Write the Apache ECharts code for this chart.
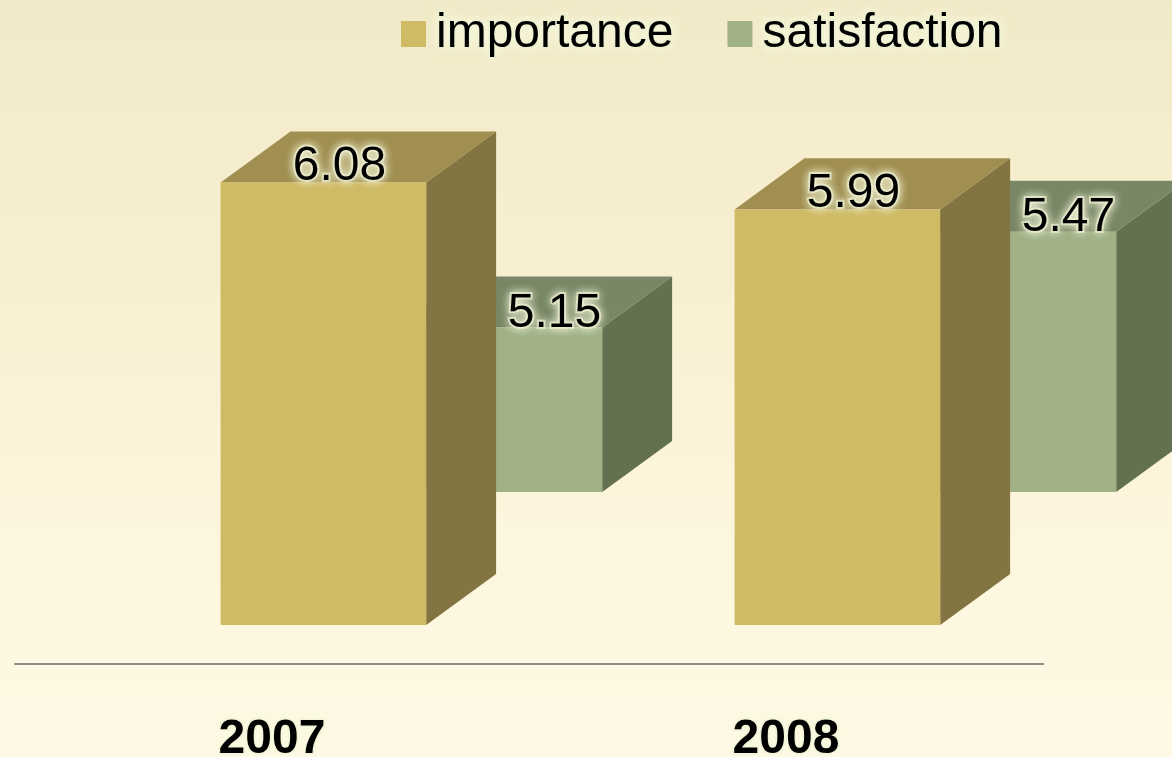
<!DOCTYPE html>
<html>
<head>
<meta charset="utf-8">
<style>
  html, body { margin: 0; padding: 0; }
  #chart { width: 1172px; height: 757px; }
</style>
<script src="https://cdn.jsdelivr.net/npm/echarts@6/dist/echarts.min.js"></script>
</head>
<body>
<div id="chart"></div>
<script>
// Survey scores per year
const years = ['2007', '2008'];
const importance = [6.08, 5.99];
const satisfaction = [5.15, 5.47];

// Value axis range (bars grow from the axis minimum)
const AXIS_MIN = 4.6;
const AXIS_MAX = 6.6;

const FONT = '"Liberation Sans", Arial, sans-serif';
const GLOW = 'rgba(248, 250, 222, 1)';
const HALO = 'rgba(232, 236, 205, 0.7)';

// Face colours for each box: front, top, side
const palette = {
  importance:   { front: '#cfbb65', top: '#a08f50', side: '#827541' },
  satisfaction: { front: '#a0b186', top: '#788766', side: '#637151' }
};

// Draws a pseudo-3D box for one category; `row` pushes the box back in depth
function boxRenderer(colors, row, labelDx, labelDy) {
  return function (params, api) {
    const cat = api.value(0);
    const val = api.value(1);
    const base = api.coord([cat, AXIS_MIN]);
    const top = api.coord([cat, val]);
    const bw = api.size([1, 0])[0];

    const depthX = 0.136 * bw;
    const depthY = -0.73 * depthX;
    const shiftX = row * 0.3424 * bw;
    const shiftY = -row * 0.2588 * bw;

    const x0 = base[0] - 0.1 * bw + shiftX;
    const x1 = x0 + 0.4 * bw;
    const yT = top[1] + shiftY;
    const yB = base[1] + shiftY;

    const side = {
      type: 'polygon',
      shape: { points: [[x1, yT], [x1 + depthX, yT + depthY], [x1 + depthX, yB + depthY], [x1, yB]] },
      style: { fill: colors.side }
    };
    const lid = {
      type: 'polygon',
      shape: { points: [[x0, yT], [x1, yT], [x1 + depthX, yT + depthY], [x0 + depthX, yT + depthY]] },
      style: { fill: colors.top }
    };
    const front = {
      type: 'rect',
      shape: { x: x0, y: yT, width: x1 - x0, height: yB - yT },
      style: { fill: colors.front }
    };
    const label = {
      type: 'text',
      x: (x0 + x1) / 2 + labelDx,
      y: yT + labelDy,
      style: {
        text: val.toFixed(2),
        fill: '#000',
        font: '48px ' + FONT,
        align: 'center',
        verticalAlign: 'middle',
        stroke: HALO,
        lineWidth: 4,
        textShadowColor: GLOW,
        textShadowBlur: 10
      }
    };
    return { type: 'group', children: [side, lid, front, label] };
  };
}

function series(name, values, row, z, labelDx, labelDy) {
  return {
    name: name,
    type: 'custom',
    z: z,
    clip: false,
    itemStyle: { color: palette[name].front },
    renderItem: boxRenderer(palette[name], row, labelDx, labelDy),
    data: values.map((v, i) => [i, v])
  };
}

const chart = echarts.init(document.getElementById('chart'), null, { renderer: 'canvas' });

chart.setOption({
  animation: false,
  backgroundColor: {
    type: 'linear', x: 0, y: 0, x2: 0, y2: 1,
    colorStops: [
      { offset: 0, color: '#f1eac8' },
      { offset: 0.35, color: '#f8efd0' },
      { offset: 0.7, color: '#fdf6de' },
      { offset: 1, color: '#fef9e5' }
    ]
  },
  legend: {
    data: ['importance', 'satisfaction'],
    left: 396,
    top: 3,
    icon: 'rect',
    itemWidth: 25,
    itemHeight: 26,
    itemGap: 52,
    textStyle: {
      fontFamily: FONT,
      fontSize: 48,
      color: '#000',
      padding: [0, 0, 0, 5],
      textBorderColor: HALO,
      textBorderWidth: 4,
      textShadowColor: GLOW,
      textShadowBlur: 10
    }
  },
  grid: { left: 15, right: 129, top: 27, bottom: 132, outerBoundsMode: 'none' },
  xAxis: {
    type: 'category',
    data: years,
    offset: 39,
    axisLine: { lineStyle: { color: '#8c8c82', width: 2 } },
    axisTick: { show: false },
    axisLabel: {
      margin: 52,
      fontFamily: FONT,
      fontSize: 48,
      fontWeight: 'bold',
      color: '#000',
      textBorderColor: HALO,
      textBorderWidth: 3,
      textShadowColor: GLOW,
      textShadowBlur: 8
    }
  },
  yAxis: {
    type: 'value',
    min: AXIS_MIN,
    max: AXIS_MAX,
    show: false,
    splitLine: { show: false }
  },
  series: [
    series('satisfaction', satisfaction, 1, 2, 55, -14),
    series('importance', importance, 0, 3, 16, -16)
  ]
});
</script>
</body>
</html>
